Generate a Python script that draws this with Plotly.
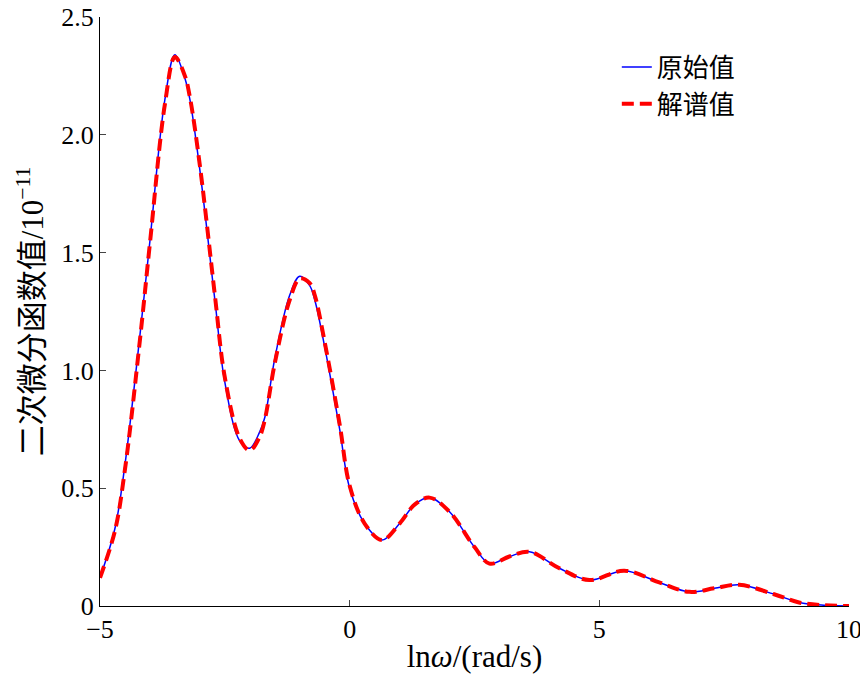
import plotly.graph_objects as go

x_orig = [-5, -4.7, -4.5, -4.2, -4, -3.7, -3.5, -3.3, -3.2, -3, -2.7, -2.5, -2.2, -2.0, -1.8, -1.7, -1.5, -1.2,
          -1.0, -0.8, -0.7, -0.5, -0.2, 0, 0.3, 0.65, 1.0, 1.3, 1.6, 2.0, 2.5, 2.8, 3.2, 3.6, 4.2, 4.8,
          5.5, 6.2, 6.8, 7.3, 7.8, 8.5, 9.0, 9.5, 10]
y_orig = [0.12, 0.33, 0.6, 1.15, 1.55, 2.15, 2.34, 2.24, 2.15, 1.85, 1.3, 0.95, 0.7, 0.67, 0.74, 0.8, 1.05, 1.32,
          1.40, 1.36, 1.3, 1.1, 0.75, 0.5, 0.35, 0.28, 0.35, 0.43, 0.46, 0.4, 0.25, 0.18, 0.21, 0.23, 0.16, 0.11,
          0.15, 0.1, 0.06, 0.075, 0.09, 0.05, 0.015, 0.003, 0]
# 解谱值 nearly identical, slight deviations
y_fit = [0.12, 0.32, 0.58, 1.13, 1.54, 2.13, 2.33, 2.25, 2.16, 1.87, 1.32, 0.97, 0.71, 0.66, 0.72, 0.79, 1.03, 1.3,
         1.39, 1.37, 1.32, 1.12, 0.77, 0.51, 0.35, 0.28, 0.35, 0.43, 0.46, 0.4, 0.25, 0.18, 0.21, 0.23, 0.16, 0.11,
         0.15, 0.1, 0.06, 0.075, 0.09, 0.05, 0.015, 0.003, 0]

font = "Liberation Serif, Noto Sans CJK SC"

fig = go.Figure()
fig.add_trace(go.Scatter(x=x_orig, y=y_orig, mode="lines", name="原始值",
                         line=dict(color="#0000ff", width=1.5, shape="spline")))
fig.add_trace(go.Scatter(x=x_orig, y=y_fit, mode="lines", name="解谱值",
                         line=dict(color="#ff0000", width=4, dash="12px,6px", shape="spline")))
fig.update_layout(
    width=868, height=688, plot_bgcolor="white", paper_bgcolor="white",
    margin=dict(l=92, r=27, t=9, b=90, autoexpand=False),
    font=dict(family=font, size=26, color="black"),
    legend=dict(x=0.69, y=0.955, xanchor="left", yanchor="top", bgcolor="rgba(0,0,0,0)",
                font=dict(size=26)),
    xaxis=dict(range=[-5, 10], tickvals=[-5, 0, 5, 10], ticks="inside", ticklen=6,
               showline=True, linecolor="black", showgrid=False, zeroline=False,
               title=dict(text="ln<i>ω</i>/(rad/s)", standoff=2)),
    yaxis=dict(range=[0, 2.5], tickvals=[0, 0.5, 1, 1.5, 2, 2.5],
               ticktext=["0", "0.5", "1.0", "1.5", "2.0", "2.5"], ticks="inside", ticklen=6,
               ticklabeloverflow="allow",
               showline=True, linecolor="black", showgrid=False, zeroline=False,
               title=dict(text="二次微分函数值/10<sup>−11</sup>", standoff=8)),
)
fig.write_html("out.html")
